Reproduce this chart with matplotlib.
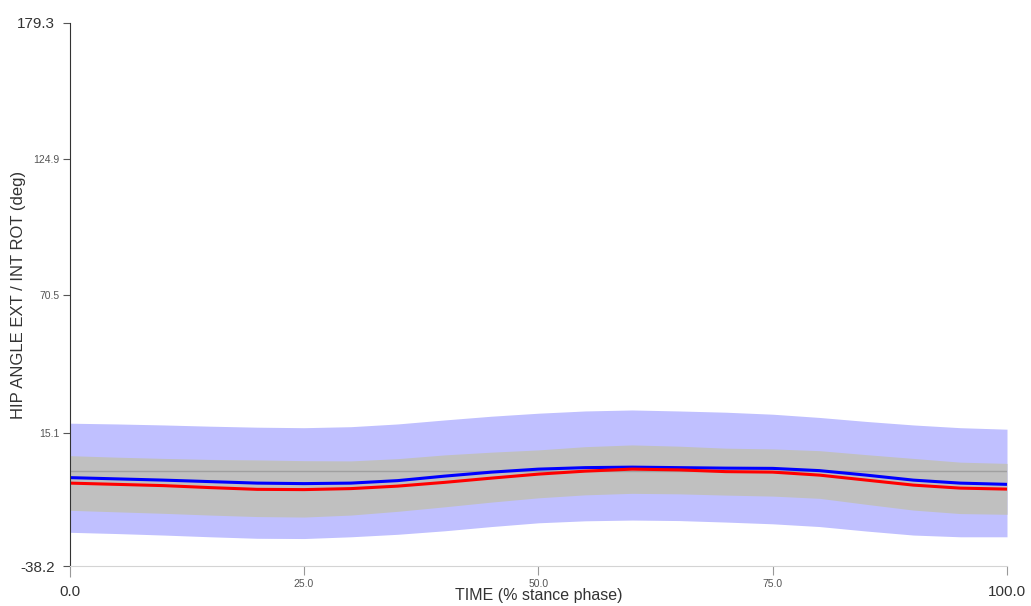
import numpy as np
import matplotlib
matplotlib.use("Agg")
from matplotlib import pyplot as plt

plt.rcParams['font.family'] = ['Liberation Sans', 'DejaVu Sans']

# stance phase sample points (%)
time_pct = [0, 5, 10, 15, 20, 25, 30, 35, 40, 45, 50,
            55, 60, 65, 70, 75, 80, 85, 90, 95, 100]

# normative corridor (outer) and inner band
outer_hi = [19.0, 18.7, 18.3, 17.8, 17.4, 17.2, 17.6, 18.7, 20.3, 21.8, 23.0,
            23.9, 24.3, 23.9, 23.4, 22.6, 21.3, 19.7, 18.3, 17.2, 16.6]
outer_lo = [-24.7, -25.2, -25.8, -26.5, -27.1, -27.2, -26.5, -25.5, -24.1, -22.4, -20.9,
            -20.1, -19.8, -20.0, -20.6, -21.3, -22.4, -24.2, -25.8, -26.5, -26.5]
inner_hi = [6.0, 5.4, 4.9, 4.5, 4.3, 4.0, 3.9, 4.8, 6.3, 7.4, 8.3,
            9.6, 10.3, 9.8, 9.0, 8.7, 8.0, 6.4, 4.9, 3.4, 2.9]
inner_lo = [-15.9, -16.5, -17.1, -17.8, -18.4, -18.6, -17.8, -16.3, -14.5, -12.6, -10.9,
            -9.7, -9.1, -9.3, -9.8, -10.2, -11.1, -13.5, -15.8, -17.2, -17.5]

# subject curves
blue_curve = [-2.8, -3.3, -3.8, -4.4, -5.0, -5.2, -5.0, -4.0, -2.2, -0.6, 0.6,
              1.2, 1.4, 1.2, 1.0, 0.9, 0.0, -1.8, -3.8, -5.0, -5.5]
red_curve = [-5.0, -5.5, -6.0, -6.8, -7.5, -7.6, -7.2, -6.2, -4.7, -3.0, -1.4,
             -0.2, 0.6, 0.3, -0.4, -0.6, -1.8, -3.8, -5.8, -7.0, -7.4]

y_ticks = [-38.2, 15.1, 70.5, 124.9, 179.3]
x_ticks = [0.0, 25.0, 50.0, 75.0, 100.0]

fig = plt.figure(figsize=(10.31, 6.06), dpi=100)
ax = fig.add_axes([69.7 / 1031, 1 - 566 / 606, (1007 - 69.7) / 1031, (566 - 23) / 606])

ax.fill_between(time_pct, outer_lo, outer_hi, color='#c0c0ff', lw=0)
ax.fill_between(time_pct, inner_lo, inner_hi, color='#c0c0c0', lw=0)
ax.axhline(0, color='#a0a0a0', lw=1)
ax.plot(time_pct, blue_curve, color='#0000ff', lw=2.2, solid_capstyle='butt')
ax.plot(time_pct, red_curve, color='#ff0000', lw=2.2, solid_capstyle='butt')

ax.set_xlim(x_ticks[0], x_ticks[-1])
ax.set_ylim(y_ticks[0], y_ticks[-1])

ax.spines['top'].set_visible(False)
ax.spines['right'].set_visible(False)
ax.spines['left'].set_color('#333333')
ax.spines['bottom'].set_color('#d4d4d4')

ax.set_yticks(y_ticks)
ax.set_yticklabels(['%.1f' % v for v in y_ticks])
ax.set_xticks(x_ticks)
ax.set_xticklabels(['%.1f' % v for v in x_ticks])
ax.tick_params(axis='y', length=5, color='#555555', labelcolor='#555555', labelsize=7.5, pad=2.2)
ax.tick_params(axis='x', length=6.5, color='#999999', labelcolor='#555555', labelsize=7.5, pad=3)

# end values get the bigger labels
for ticks in (ax.yaxis.get_major_ticks(), ax.xaxis.get_major_ticks()):
    for t in (ticks[0], ticks[-1]):
        t.label1.set_fontsize(11)
        t.label1.set_color('#333333')
for t in (ax.yaxis.get_major_ticks()[0], ax.yaxis.get_major_ticks()[-1]):
    t.set_pad(5.5)
for t in (ax.xaxis.get_major_ticks()[0], ax.xaxis.get_major_ticks()[-1]):
    t.set_pad(7)
# the 0.0 tick continues the left spine below the x axis
ax.xaxis.get_major_ticks()[0].tick1line.set_color('#333333')
ax.xaxis.get_major_ticks()[0].tick1line.set_markersize(8)

ax.set_xlabel('TIME (% stance phase)', fontsize=11.5, color='#333333')
ax.xaxis.set_label_coords(0.5, -0.040)
ax.set_ylabel('HIP ANGLE EXT / INT ROT (deg)', fontsize=12, color='#333333')
ax.yaxis.set_label_coords(-0.047, 0.5)

fig.savefig('out.png', dpi=100)
